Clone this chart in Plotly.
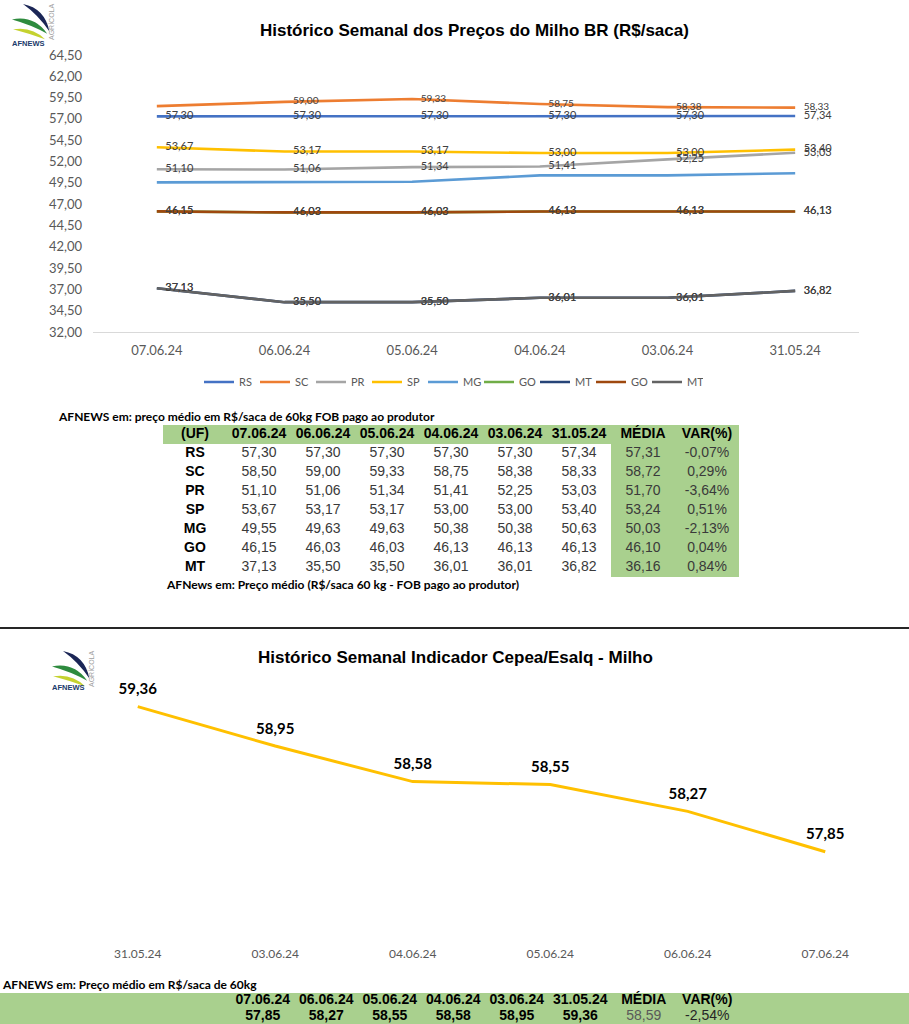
import plotly.graph_objects as go

W, H = 909, 1024


def px(x):
    return x / W


def py(y):
    return 1 - y / H


def br(v):
    return f"{v:.2f}".replace(".", ",")


# ---------------- data: top chart / table ----------------
top_dates = ["07.06.24", "06.06.24", "05.06.24", "04.06.24", "03.06.24", "31.05.24"]
uf_names = ["RS", "SC", "PR", "SP", "MG", "GO", "MT"]
rs = [57.30, 57.30, 57.30, 57.30, 57.30, 57.34]
sc = [58.50, 59.00, 59.33, 58.75, 58.38, 58.33]
pr = [51.10, 51.06, 51.34, 51.41, 52.25, 53.03]
sp = [53.67, 53.17, 53.17, 53.00, 53.00, 53.40]
mg = [49.55, 49.63, 49.63, 50.38, 50.38, 50.63]
go_vals = [46.15, 46.03, 46.03, 46.13, 46.13, 46.13]
mt = [37.13, 35.50, 35.50, 36.01, 36.01, 36.82]
media_top = [57.31, 58.72, 51.70, 53.24, 50.03, 46.10, 36.16]
var_top = ["-0,07%", "0,29%", "-3,64%", "0,51%", "-2,13%", "0,04%", "0,84%"]

# ---------------- data: bottom chart / table ----------------
bot_dates = ["31.05.24", "03.06.24", "04.06.24", "05.06.24", "06.06.24", "07.06.24"]
cepea = [59.36, 58.95, 58.58, 58.55, 58.27, 57.85]
media_bot = 58.59
var_bot = "-2,54%"

GREEN = "#A9D08E"
LABEL_FONT = "Lato, Carlito, Calibri, sans-serif"
ARIAL = "Liberation Sans, Arial, sans-serif"

fig = go.Figure()

# ---------------- top line chart ----------------
series = [
    ("RS", rs, "#4472C4", True, 11, False),
    ("SC", sc, "#ED7D31", True, 10, True),
    ("PR", pr, "#A5A5A5", True, 11, False),
    ("SP", sp, "#FFC000", True, 11, False),
    ("MG", mg, "#5B9BD5", False, 11, False),
    ("GO", go_vals, "#70AD47", True, 11, False),
    ("MT", mt, "#264478", True, 11, False),
    ("GO", go_vals, "#9E480E", True, 11, False),
    ("MT", mt, "#636363", True, 11, False),
]

for name, vals, color, lab, fsize, hide_first in series:
    if lab:
        txt = [br(v) for v in vals]
        if hide_first:
            txt[0] = ""
    else:
        txt = None
    fig.add_trace(go.Scatter(
        x=top_dates, y=vals, name=name,
        mode="lines+markers+text" if lab else "lines",
        line=dict(color=color, width=2.6),
        marker=dict(size=12, color="rgba(0,0,0,0)"),
        text=txt, textposition="middle right",
        textfont=dict(family=LABEL_FONT, size=fsize, color="#404040"),
        xaxis="x", yaxis="y", hoverinfo="skip", cliponaxis=False,
    ))

# ---------------- bottom line chart ----------------
fig.add_trace(go.Scatter(
    x=bot_dates, y=cepea, mode="lines+markers+text", showlegend=False,
    line=dict(color="#FFC000", width=3),
    marker=dict(size=12, color="rgba(0,0,0,0)"),
    text=[br(v) for v in cepea], textposition="top center",
    textfont=dict(family=LABEL_FONT, size=15, color="#000000", weight="bold"),
    xaxis="x2", yaxis="y2", hoverinfo="skip", cliponaxis=False,
))

# ---------------- top table (heatmap fills + text) ----------------
hdr_top = ["(UF)"] + top_dates + ["MÉDIA", "VAR(%)"]
all_series = [rs, sc, pr, sp, mg, go_vals, mt]
rows_top = [hdr_top]
for k, u in enumerate(uf_names):
    rows_top.append([u] + [br(v) for v in all_series[k]] + [br(media_top[k]), var_top[k]])

ncol = len(hdr_top)
nrow = len(rows_top)
green_cols = {ncol - 2, ncol - 1}
z_top = [[1] * ncol] + [[1 if c in green_cols else 0 for c in range(ncol)] for _ in range(nrow - 1)]

fig.add_trace(go.Heatmap(
    z=z_top, x=list(range(ncol)), y=list(range(nrow)),
    colorscale=[[0, "white"], [1, GREEN]], zmin=0, zmax=1, showscale=False,
    xaxis="x3", yaxis="y3", hoverinfo="skip",
))

tx, ty, tt, tc = [], [], [], []
for r, row in enumerate(rows_top):
    for c, val in enumerate(row):
        tx.append(c)
        ty.append(r)
        bold = (r == 0) or (c == 0)
        tt.append(f"<b>{val}</b>" if bold else val)
        tc.append("#000000" if bold else "#3A3A3A")
fig.add_trace(go.Scatter(
    x=tx, y=ty, text=tt, mode="text", textposition="middle center",
    textfont=dict(family=ARIAL, size=14, color=tc), showlegend=False,
    xaxis="x3", yaxis="y3", hoverinfo="skip", cliponaxis=False,
))

# ---------------- bottom table (text on green band) ----------------
hdr_bot = top_dates + ["MÉDIA", "VAR(%)"]
vals_bot = [br(v) for v in cepea[::-1]] + [br(media_bot), var_bot]
bx, by, bt, bc = [], [], [], []
for c, h in enumerate(hdr_bot):
    bx.append(c); by.append(0); bt.append(f"<b>{h}</b>"); bc.append("#000000")
for c, v in enumerate(vals_bot):
    bx.append(c); by.append(1)
    if c < len(top_dates):
        bt.append(f"<b>{v}</b>"); bc.append("#000000")
    elif c == len(top_dates):
        bt.append(v); bc.append("#595959")
    else:
        bt.append(v); bc.append("#262626")
fig.add_trace(go.Scatter(
    x=bx, y=by, text=bt, mode="text", textposition="middle center",
    textfont=dict(family=ARIAL, size=14, color=bc), showlegend=False,
    xaxis="x4", yaxis="y4", hoverinfo="skip", cliponaxis=False,
))

shapes = []
shapes.append(dict(type="line", xref="paper", yref="paper", x0=0, x1=1,
                   y0=py(628), y1=py(628), line=dict(color="#262626", width=2)))
shapes.append(dict(type="rect", xref="paper", yref="paper", x0=0, x1=1,
                   y0=0, y1=py(993), fillcolor=GREEN, line=dict(width=0), layer="below"))


def logo(dx, dy, s=1.0):
    def P(x, y):
        return f"{px(dx + x * s):.5f},{py(dy + y * s):.5f}"
    navy = f"M {P(10,0)} Q {P(30,4)} {P(34,25)} Q {P(24,10)} {P(10,0)} Z"
    green = f"M {P(0,14)} Q {P(20,10)} {P(32,27)} Q {P(18,19)} {P(0,14)} Z"
    yellow = f"M {P(1,23)} Q {P(18,20)} {P(30,32)} Q {P(16,27)} {P(1,23)} Z"
    out = []
    for path, col in [(navy, "#1B2656"), (green, "#2E8B3E"), (yellow, "#C5D22F")]:
        out.append(dict(type="path", xref="paper", yref="paper", path=path,
                        fillcolor=col, line=dict(width=0)))
    return out


shapes += logo(12, 4, 1.1)
shapes += logo(52, 651, 1.1)

annotations = []


def note(text, x, y, size, family, xanchor="left", color="#000000", bold=True, textangle=0):
    annotations.append(dict(
        text=(f"<b>{text}</b>" if bold else text), x=px(x), y=py(y), xref="paper", yref="paper",
        xanchor=xanchor, yanchor="middle", showarrow=False, textangle=textangle,
        font=dict(family=family, size=size, color=color)))


note("Histórico Semanal dos Preços do Milho BR (R$/saca)", 474, 30, 17, ARIAL, "center")
note("Histórico Semanal Indicador Cepea/Esalq - Milho", 456, 657, 17, ARIAL, "center")
note("AFNEWS em: preço médio em R$/saca de 60kg FOB pago ao produtor", 56, 416, 12, LABEL_FONT)
note("AFNews em: Preço médio (R$/saca 60 kg - FOB pago ao produtor)", 164, 584, 12, LABEL_FONT)
note("AFNEWS em: Preço médio em R$/saca de 60kg", 0, 984, 12, LABEL_FONT)
note("AFNEWS", 28, 43, 7.5, ARIAL, "center", "#1B3A6B")
note("AGRÍCOLA", 51, 22, 7, ARIAL, "center", "#A0A0A0", bold=False, textangle=-90)
note("AFNEWS", 68, 687, 7.5, ARIAL, "center", "#1B3A6B")
note("AGRÍCOLA", 91, 669, 7, ARIAL, "center", "#A0A0A0", bold=False, textangle=-90)

hidden = dict(visible=False, showgrid=False, zeroline=False, fixedrange=True)

fig.update_layout(
    width=W, height=H, margin=dict(l=0, r=0, t=0, b=0, pad=0, autoexpand=False),
    paper_bgcolor="white", plot_bgcolor="rgba(0,0,0,0)",
    separators=",.",
    showlegend=True,
    legend=dict(orientation="h", x=px(451), xanchor="center", y=py(382), yanchor="middle",
                font=dict(family=LABEL_FONT, size=11, color="#595959"),
                itemwidth=30, entrywidth=11, entrywidthmode="pixels",
                bgcolor="rgba(0,0,0,0)"),
    xaxis=dict(domain=[px(93), px(859)], anchor="y", type="category", range=[-0.5, 5.5],
               showline=True, linecolor="#D9D9D9", linewidth=1, ticks="",
               showgrid=False, zeroline=False, ticklabelstandoff=6,
               tickfont=dict(family=LABEL_FONT, size=13, color="#595959")),
    yaxis=dict(domain=[py(332), py(55)], range=[32, 64.5], tick0=32, dtick=2.5,
               tickformat=".2f", showgrid=False, zeroline=False, showline=False,
               ticks="", ticklabelstandoff=10,
               tickfont=dict(family=LABEL_FONT, size=13, color="#595959")),
    xaxis2=dict(domain=[px(69), px(894)], anchor="y2", type="category", range=[-0.5, 5.5],
                showline=False, ticks="", showgrid=False, zeroline=False,
                ticklabelstandoff=2,
                tickfont=dict(family=LABEL_FONT, size=12, color="#595959")),
    yaxis2=dict(domain=[py(943), py(674)], range=[56.9, 59.7], visible=False,
                showgrid=False, zeroline=False),
    xaxis3=dict(domain=[px(163), px(739)], anchor="y3", range=[-0.5, 8.5], **hidden),
    yaxis3=dict(domain=[py(577), py(425)], anchor="x3", range=[7.5, -0.5], **hidden),
    xaxis4=dict(domain=[px(231), px(739)], anchor="y4", range=[-0.5, 7.5], **hidden),
    yaxis4=dict(domain=[0, py(993)], anchor="x4", range=[1.5, -0.5], **hidden),
    shapes=shapes,
    annotations=annotations,
)

fig.write_html("out.html", config={"displayModeBar": False, "staticPlot": True},
               post_script="document.body.style.margin='0px';")
